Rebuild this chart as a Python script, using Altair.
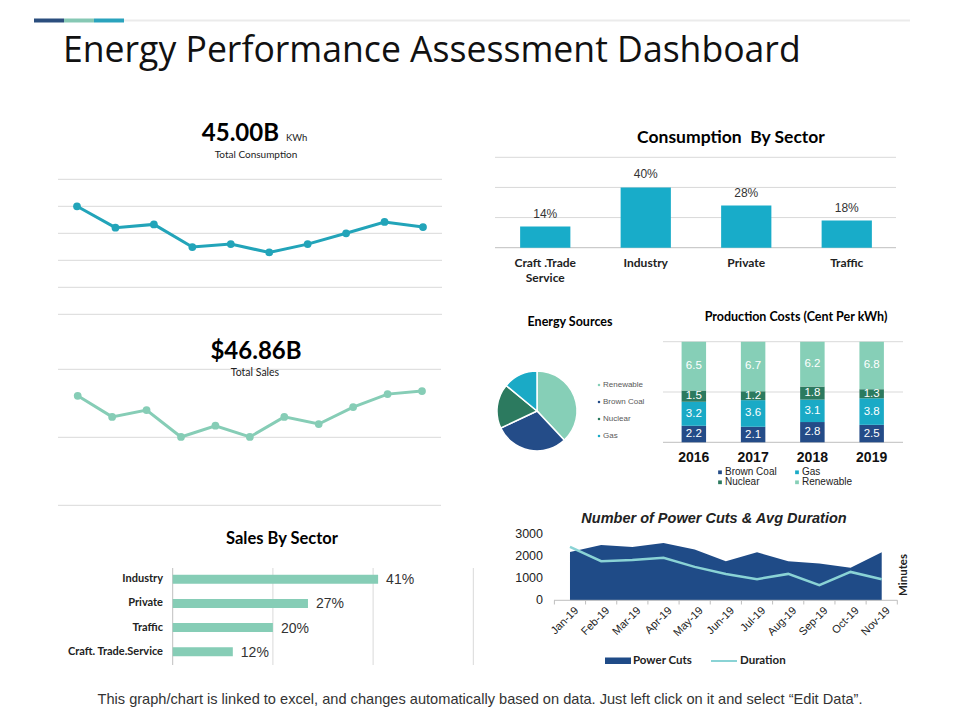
import altair as alt
import pandas as pd

# ---------------- data ----------------
TITLE = "Energy Performance Assessment Dashboard"
FOOTER = ("This graph/chart is linked to excel, and changes automatically based on data. "
          "Just left click on it and select \u201cEdit Data\u201d.")

cons_kpi = "45.00B"
cons_unit = "KWh"
cons_caption = "Total Consumption"
cons_periods = ["P1", "P2", "P3", "P4", "P5", "P6", "P7", "P8", "P9", "P10"]
cons_values = [40.0, 32.1, 33.3, 24.9, 26.0, 22.9, 26.0, 30.0, 34.2, 32.3]
cons_grid = [0, 10, 20, 30, 40, 50]

sales_kpi = "$46.86B"
sales_caption = "Total Sales"
sales_periods = ["P1", "P2", "P3", "P4", "P5", "P6", "P7", "P8", "P9", "P10", "P11"]
sales_values = [32.2, 26.0, 28.0, 20.1, 23.4, 20.1, 26.0, 23.9, 28.9, 32.7, 33.6]
sales_grid = [0, 20, 40]

sales_sector_title = "Sales By Sector"
sales_sectors = ["Industry", "Private", "Traffic", "Craft. Trade.Service"]
sales_shares = [41, 27, 20, 12]
sales_sector_grid = [0, 20, 40, 60]

cons_sector_title = "Consumption\u00a0\u00a0By Sector"
cons_sectors = ["Craft .Trade\nService", "Industry", "Private", "Traffic"]
cons_shares = [14, 40, 28, 18]
cons_sector_grid = [0, 20, 40, 60]

pie_title = "Energy Sources"
source_names = ["Renewable", "Brown Coal", "Nuclear", "Gas"]
source_shares = [38, 30, 18, 14]

prod_title = "Production Costs (Cent Per kWh)"
years = ["2016", "2017", "2018", "2019"]
prod_sources = ["Brown Coal", "Gas", "Nuclear", "Renewable"]
brown_coal = [2.2, 2.1, 2.8, 2.5]
gas = [3.2, 3.6, 3.1, 3.8]
nuclear = [1.5, 1.2, 1.8, 1.3]
renewable = [6.5, 6.7, 6.2, 6.8]
prod_grid = [0, 0.5, 1]

cuts_title = "Number of Power Cuts & Avg Duration"
months = ["Jan-19", "Feb-19", "Mar-19", "Apr-19", "May-19", "Jun-19",
          "Jul-19", "Aug-19", "Sep-19", "Oct-19", "Nov-19"]
power_cuts = [2200, 2510, 2420, 2600, 2310, 1780, 2180, 1770, 1670, 1480, 2180]
duration = [2430, 1780, 1830, 1930, 1520, 1200, 960, 1200, 690, 1290, 960]
cuts_ticks = [0, 1000, 2000, 3000]
cuts_legend = ["Power Cuts", "Duration"]

# ---------------- styles ----------------
HEAD = "Lato"
TITLE_FONT = "Open Sans"
ARIAL = "Liberation Sans"
TEAL_LINE = "#22A4B9"
TEAL_BAR = "#18ACC9"
MINT = "#86CDB6"
DARK = "#244C88"
GAS = "#1AAAC6"
NUC = "#2C7A5F"
REN = "#86CFB7"
AREA = "#1F4B87"
DUR = "#8AD3D5"
GRID = "#D9D9D9"
AXIS = "#BFBFBF"

source_colors = [REN, DARK, NUC, GAS]
prod_colors = [DARK, GAS, NUC, REN]


def px(v):
    # reference page coordinate -> chart coordinate (page has 8px margin)
    return v - 8


def label(text, x, y, size, weight="normal", font=HEAD, color="#000000",
          align="center", baseline="alphabetic", angle=None, italic=False):
    kw = dict(fontSize=size, fontWeight=weight, font=font, color=color,
              align=align, baseline=baseline)
    if angle is not None:
        kw["angle"] = angle
    if italic:
        kw["fontStyle"] = "italic"
    return alt.Chart(pd.DataFrame({"t": [text]})).mark_text(**kw).encode(
        text="t:N", x=alt.value(px(x)), y=alt.value(px(y)))


panels = []

# ---------------- header ----------------
deco = pd.DataFrame({"seg": ["a", "b", "c"], "s": [0, 1, 2], "e": [1, 2, 3]})
header_line = alt.Chart(pd.DataFrame({"t": [0]})).mark_rule(
    color="#EBEBEB", strokeWidth=2).encode(
    x=alt.value(px(34)), x2=alt.value(px(910)), y=alt.value(px(20.5)))
deco_bar = alt.Chart(deco).mark_rect().encode(
    x=alt.X("s:Q", scale=alt.Scale(domain=[0, 3], range=[px(34), px(124)], nice=False), axis=None),
    x2="e:Q",
    y=alt.value(px(18.5)), y2=alt.value(px(22.5)),
    color=alt.Color("seg:N", scale=alt.Scale(domain=["a", "b", "c"],
                                             range=["#2B4E7E", "#86C8B4", "#2AA3BD"]), legend=None))
panels.append(alt.layer(header_line, deco_bar))
panels.append(label(TITLE, 63, 62.3, 35.6, align="left", font=TITLE_FONT, color="#111111"))

# ---------------- consumption line ----------------
c_df = pd.DataFrame({"p": cons_periods, "v": cons_values})
c_x = alt.X("p:N", sort=cons_periods,
            scale=alt.Scale(type="point", range=[px(77), px(423)], padding=0), axis=None)
c_ys = alt.Scale(domain=[0, 50], range=[px(314.3), px(179.3)], nice=False)
c_grid = alt.Chart(pd.DataFrame({"g": cons_grid})).mark_rule(color=GRID, strokeWidth=1).encode(
    y=alt.Y("g:Q", scale=c_ys, axis=None), x=alt.value(px(58)), x2=alt.value(px(442)))
c_line = alt.Chart(c_df).mark_line(color=TEAL_LINE, strokeWidth=3).encode(
    x=c_x, y=alt.Y("v:Q", scale=c_ys, axis=None))
c_pts = alt.Chart(c_df).mark_circle(color=TEAL_LINE, size=60, opacity=1).encode(
    x=c_x, y=alt.Y("v:Q", scale=c_ys, axis=None))
panels.append(alt.layer(c_grid, c_line, c_pts))
panels.append(label(cons_kpi, 279, 140.5, 24, weight="bold", align="right"))
panels.append(label(cons_unit, 286, 140.5, 9.5, align="left", color="#222222"))
panels.append(label(cons_caption, 256, 158, 10, color="#222222"))

# ---------------- sales line ----------------
s_df = pd.DataFrame({"p": sales_periods, "v": sales_values})
s_x = alt.X("p:N", sort=sales_periods,
            scale=alt.Scale(type="point", range=[px(77.7), px(422)], padding=0), axis=None)
s_ys = alt.Scale(domain=[0, 40], range=[px(505.3), px(369.3)], nice=False)
s_grid = alt.Chart(pd.DataFrame({"g": sales_grid})).mark_rule(color=GRID, strokeWidth=1).encode(
    y=alt.Y("g:Q", scale=s_ys, axis=None), x=alt.value(px(58)), x2=alt.value(px(441)))
s_line = alt.Chart(s_df).mark_line(color=MINT, strokeWidth=3).encode(
    x=s_x, y=alt.Y("v:Q", scale=s_ys, axis=None))
s_pts = alt.Chart(s_df).mark_circle(color=MINT, size=60, opacity=1).encode(
    x=s_x, y=alt.Y("v:Q", scale=s_ys, axis=None))
panels.append(alt.layer(s_grid, s_line, s_pts))
panels.append(label(sales_kpi, 256, 358.5, 24, weight="bold"))
panels.append(label(sales_caption, 255, 376, 10.5, color="#222222"))

# ---------------- sales by sector ----------------
ss_df = pd.DataFrame({"s": sales_sectors, "v": sales_shares})
ss_y = alt.Y("s:N", sort=sales_sectors,
             scale=alt.Scale(type="band", range=[px(567.2), px(663.8)],
                             paddingInner=0.63, paddingOuter=0.315), axis=None)
ss_xs = alt.Scale(domain=[0, 60], range=[px(172.7), px(473.3)], nice=False)
ss_grid = alt.Chart(pd.DataFrame({"g": sales_sector_grid})).mark_rule(strokeWidth=1).encode(
    x=alt.X("g:Q", scale=ss_xs, axis=None), y=alt.value(px(568)), y2=alt.value(px(665)),
    color=alt.condition("datum.g == 0", alt.value(AXIS), alt.value(GRID)))
ss_bar = alt.Chart(ss_df).mark_bar(color=MINT).encode(
    x=alt.X("v:Q", scale=ss_xs, axis=None), y=ss_y)
ss_val = alt.Chart(ss_df).transform_calculate(lab="datum.v + '%'").mark_text(
    align="left", baseline="middle", dx=8, dy=1, font=ARIAL, fontSize=14, color="#333333").encode(
    x=alt.X("v:Q", scale=ss_xs, axis=None), y=ss_y, text="lab:N")
ss_cat = alt.Chart(ss_df).mark_text(
    align="right", baseline="middle", font=HEAD, fontWeight="bold", fontSize=11, color="#222222").encode(
    x=alt.value(px(163)), y=ss_y, text="s:N")
panels.append(alt.layer(ss_grid, ss_bar, ss_val, ss_cat))
panels.append(label(sales_sector_title, 282, 543.5, 16.5, weight="bold"))

# ---------------- consumption by sector ----------------
cs_df = pd.DataFrame({"s": cons_sectors, "v": cons_shares})
cs_x = alt.X("s:N", sort=cons_sectors,
             scale=alt.Scale(type="band", range=[px(495), px(897)],
                             paddingInner=0.5, paddingOuter=0.25), axis=None)
cs_ys = alt.Scale(domain=[0, 60], range=[px(247.7), px(157.3)], nice=False)
cs_grid = alt.Chart(pd.DataFrame({"g": cons_sector_grid})).mark_rule(strokeWidth=1).encode(
    y=alt.Y("g:Q", scale=cs_ys, axis=None), x=alt.value(px(495)), x2=alt.value(px(896)),
    color=alt.condition("datum.g == 0", alt.value(AXIS), alt.value(GRID)))
cs_bar = alt.Chart(cs_df).mark_bar(color=TEAL_BAR).encode(
    x=cs_x, y=alt.Y("v:Q", scale=cs_ys, axis=None))
cs_val = alt.Chart(cs_df).transform_calculate(lab="datum.v + '%'").mark_text(
    baseline="bottom", dy=-6, font=ARIAL, fontSize=12, color="#333333").encode(
    x=cs_x, y=alt.Y("v:Q", scale=cs_ys, axis=None), text="lab:N")
cs_cat = alt.Chart(cs_df).mark_text(
    baseline="top", lineBreak="\n", lineHeight=15, font=HEAD, fontWeight="bold",
    fontSize=12, color="#222222").encode(
    x=cs_x, y=alt.value(px(257.5)), text="s:N")
panels.append(alt.layer(cs_grid, cs_bar, cs_val, cs_cat))
panels.append(label(cons_sector_title, 731, 143, 17.5, weight="bold"))

# ---------------- energy sources pie ----------------
pie_df = pd.DataFrame({"k": source_names, "v": source_shares, "o": list(range(len(source_names)))})
pie_color = alt.Color("k:N", scale=alt.Scale(domain=source_names, range=source_colors), legend=None)
pie = alt.Chart(pie_df).mark_arc(outerRadius=40, stroke="white", strokeWidth=1.5).encode(
    theta=alt.Theta("v:Q", stack=True), color=pie_color, order=alt.Order("o:Q"),
    x=alt.value(px(537)), y=alt.value(px(411)))
pie_y = alt.Y("k:N", sort=source_names,
              scale=alt.Scale(type="point", range=[px(385), px(436)], padding=0), axis=None)
pie_bullet = alt.Chart(pie_df).mark_square(size=5, opacity=1).encode(
    x=alt.value(px(599)), y=pie_y, color=pie_color)
pie_text = alt.Chart(pie_df).mark_text(
    align="left", baseline="middle", font=ARIAL, fontSize=8, color="#595959").encode(
    x=alt.value(px(603)), y=pie_y, text="k:N")
panels.append(alt.layer(pie, pie_bullet, pie_text))
panels.append(label(pie_title, 570, 325.5, 12.5, weight="bold"))

# ---------------- production costs ----------------
rows = []
for i, y in enumerate(years):
    for j, (src, arr) in enumerate(zip(prod_sources, [brown_coal, gas, nuclear, renewable])):
        rows.append({"year": y, "src": src, "v": arr[i], "ord": j})
pc_df = pd.DataFrame(rows)
pc_x = alt.X("year:N", sort=years,
             scale=alt.Scale(type="band", range=[px(664.2), px(901.3)],
                             paddingInner=0.587, paddingOuter=0.2935), axis=None)
pc_ys = alt.Scale(domain=[0, 1], range=[px(442.3), px(341.7)], nice=False)
pc_color = alt.Color("src:N", scale=alt.Scale(domain=prod_sources, range=prod_colors), legend=None)
pc_base = alt.Chart(pc_df).transform_stack(
    stack="v", groupby=["year"], as_=["v0", "v1"], offset="normalize",
    sort=[alt.SortField("ord", order="ascending")]
).transform_calculate(mid="(datum.v0 + datum.v1) / 2")
pc_grid = alt.Chart(pd.DataFrame({"g": prod_grid})).mark_rule(strokeWidth=1).encode(
    y=alt.Y("g:Q", scale=pc_ys, axis=None), x=alt.value(px(663)), x2=alt.value(px(903)),
    color=alt.condition("datum.g == 0", alt.value(AXIS), alt.value(GRID)))
pc_bar = pc_base.mark_bar().encode(
    x=pc_x, y=alt.Y("v0:Q", scale=pc_ys, axis=None), y2="v1:Q", color=pc_color)
pc_text = pc_base.mark_text(baseline="middle", font=ARIAL, fontSize=11.5, color="white").encode(
    x=pc_x, y=alt.Y("mid:Q", scale=pc_ys, axis=None), text=alt.Text("v:Q", format=".1f"))
pc_years = alt.Chart(pd.DataFrame({"year": years})).mark_text(
    baseline="middle", font=ARIAL, fontWeight="bold", fontSize=14, color="#111111").encode(
    x=pc_x, y=alt.value(px(458)), text="year:N")
panels.append(alt.layer(pc_grid, pc_bar, pc_text, pc_years))
panels.append(label(prod_title, 796, 321, 12.5, weight="bold"))

# production legend (2 x 2)
pl_df = pd.DataFrame({"src": prod_sources, "ord": list(range(len(prod_sources)))})
pl_base = alt.Chart(pl_df).transform_calculate(
    col="datum.ord % 2", row="floor(datum.ord / 2)")
pl_x = alt.X("col:O", scale=alt.Scale(type="point", range=[px(720), px(797)], padding=0), axis=None)
pl_y = alt.Y("row:O", scale=alt.Scale(type="point", range=[px(472.3), px(482.3)], padding=0), axis=None)
pl_sq = pl_base.mark_square(size=14, opacity=1).encode(x=pl_x, y=pl_y, color=pc_color)
pl_tx = pl_base.mark_text(align="left", baseline="middle", dx=5, font=ARIAL, fontSize=10,
                          color="#222222").encode(x=pl_x, y=pl_y, text="src:N")
panels.append(alt.layer(pl_sq, pl_tx))

# ---------------- power cuts ----------------
pw_df = pd.DataFrame({"m": months, "cuts": power_cuts, "dur": duration})
pw_xs = alt.Scale(type="band", range=[px(554.4), px(897.3)], paddingInner=0, paddingOuter=0)
pw_x = alt.X("m:N", sort=months, scale=pw_xs, axis=None, bandPosition=0.5)
pw_ys = alt.Scale(domain=[0, 3000], range=[px(600.3), px(534.3)], nice=False)
pw_area = alt.Chart(pw_df).mark_area(color=AREA, opacity=1).encode(
    x=pw_x, y=alt.Y("cuts:Q", scale=pw_ys, axis=None))
pw_line = alt.Chart(pw_df).mark_line(color=DUR, strokeWidth=2.5).encode(
    x=pw_x, y=alt.Y("dur:Q", scale=pw_ys, axis=None))
pw_axis = alt.Chart(pd.DataFrame({"g": [0]})).mark_rule(color=AXIS, strokeWidth=1).encode(
    y=alt.Y("g:Q", scale=pw_ys, axis=None), x=alt.value(px(554)), x2=alt.value(px(897.5)))
pw_ticks = alt.Chart(pw_df).mark_rule(color=AXIS, strokeWidth=1).encode(
    x=alt.X("m:N", sort=months, scale=pw_xs, axis=None, bandPosition=0),
    y=alt.value(px(600.3)), y2=alt.value(px(604.5)))
pw_tick_end = alt.Chart(pw_df).transform_filter(
    alt.datum.m == months[-1]).mark_rule(color=AXIS, strokeWidth=1).encode(
    x=alt.X("m:N", sort=months, scale=pw_xs, axis=None, bandPosition=1),
    y=alt.value(px(600.3)), y2=alt.value(px(604.5)))
pw_ylab = alt.Chart(pd.DataFrame({"t": cuts_ticks})).mark_text(
    align="right", baseline="middle", font=ARIAL, fontSize=12.5, color="#222222").encode(
    y=alt.Y("t:Q", scale=pw_ys, axis=None), x=alt.value(px(543)), text=alt.Text("t:Q", format="d"))
pw_xlab = alt.Chart(pw_df).mark_text(
    angle=315, align="right", baseline="middle", font=ARIAL, fontSize=11, color="#222222").encode(
    x=alt.X("m:N", sort=months, scale=pw_xs, axis=None, bandPosition=0.72),
    y=alt.value(px(609)), text="m:N")
panels.append(alt.layer(pw_area, pw_line, pw_axis, pw_ticks, pw_tick_end, pw_ylab, pw_xlab))
panels.append(label(cuts_title, 714, 522.5, 14.5, weight="bold", font=ARIAL, italic=True,
                    color="#222222"))
panels.append(label("Minutes", 904, 575, 11.5, weight="bold", angle=270, baseline="middle",
                    color="#222222"))

# power cuts legend
leg_sym1 = alt.Chart(pd.DataFrame({"t": [cuts_legend[0]]})).mark_rect(color=AREA).encode(
    x=alt.value(px(605)), x2=alt.value(px(631)), y=alt.value(px(657.5)), y2=alt.value(px(664)))
leg_sym2 = alt.Chart(pd.DataFrame({"t": [cuts_legend[1]]})).mark_rule(
    color=DUR, strokeWidth=2).encode(
    x=alt.value(px(711)), x2=alt.value(px(737)), y=alt.value(px(661)))
panels.append(alt.layer(leg_sym1, leg_sym2))
panels.append(label(cuts_legend[0], 633, 661, 11.5, weight="bold", align="left",
                    baseline="middle", color="#222222"))
panels.append(label(cuts_legend[1], 740, 661, 11.5, weight="bold", align="left",
                    baseline="middle", color="#222222"))

# ---------------- footer ----------------
panels.append(label(FOOTER, 480, 700, 14.6, font=ARIAL, baseline="middle", color="#333333"))

chart = alt.layer(*panels).resolve_scale(
    x="independent", y="independent", color="independent", theta="independent"
).properties(
    width=944, height=702, padding=0, background="white",
    autosize=alt.AutoSizeParams(type="none")
).configure_view(stroke=None)

chart.save("out.html", embed_options={"renderer": "svg", "actions": False})
